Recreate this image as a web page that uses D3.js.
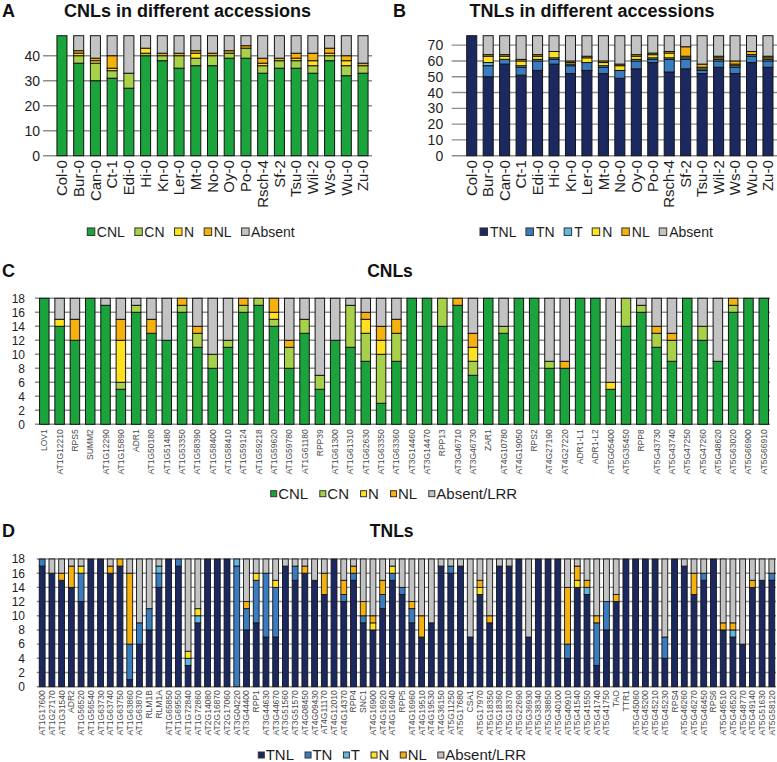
<!DOCTYPE html>
<html><head><meta charset="utf-8">
<script src="https://cdn.jsdelivr.net/npm/d3@7"></script>
<style>
body{margin:0;background:#fff}
svg{display:block}
text{font-family:"Liberation Sans",Arial,Helvetica,sans-serif}
</style>
</head><body>
<svg id="chart" width="777" height="762"></svg>
<script>
// ---------- Panel A / B data ----------
const accessions = ["Col-0","Bur-0","Can-0","Ct-1","Edi-0","Hi-0","Kn-0","Ler-0","Mt-0","No-0","Oy-0","Po-0","Rsch-4","Sf-2","Tsu-0","Wil-2","Ws-0","Wu-0","Zu-0"];
const cnlA    = [48,37,30,31,27,40,38,35,36,36,39,39,33,35,35,33,38,32,33];
const cnA     = [0,3,7,3,6,1,2,5,3,4,2,4,3,3,3,3,2,4,3];
const nA      = [0,1,1,1,0,2,0,0,2,0,0,0,1,0,1,2,1,2,0];
const nlA     = [0,1,1,5,0,0,1,1,1,1,1,1,2,1,2,3,2,2,1];
const absentA = [0,6,9,8,15,5,7,7,6,7,6,4,9,9,7,7,5,8,11];
const ticksA  = [0,10,20,30,40];

const tnlB    = [76,50,58,51,54,58,52,54,52,49,55,59,53,55,52,56,52,59,56];
const tnB     = [0,7,3,5,6,3,5,5,4,5,5,2,8,6,2,4,4,4,4];
const tB      = [0,2,0,1,1,1,1,0,1,0,1,1,1,1,1,1,1,1,1];
const nB      = [0,4,2,3,2,4,1,3,2,3,2,2,3,1,1,1,1,0,1];
const nlB     = [0,1,1,1,1,0,1,1,1,1,1,1,1,6,2,1,2,2,1];
const absentB = [0,12,12,15,12,10,16,13,16,18,12,11,10,7,18,13,16,10,13];
const ticksB  = [0,10,20,30,40,50,60,70];

// ---------- Panel C data ----------
const cnlGenes = ["LOV1","AT1G12210","RPS5","SUMM2","AT1G12290","AT1G15890","ADR1","AT1G50180","AT1G51480","AT1G53350","AT1G58390","AT1G58400","AT1G58410","AT1G59124","AT1G59218","AT1G59620","AT1G59780","AT1G61180","RPP39","AT1G61300","AT1G61310","AT1G62630","AT1G63350","AT1G63360","AT3G14460","AT3G14470","RPP13","AT3G46710","AT3G46730","ZAR1","AT4G10780","AT4G19050","RPS2","AT4G27190","AT4G27220","ADR1-L1","ADR1-L2","AT5G05400","AT5G35450","RPP8","AT5G43730","AT5G43740","AT5G47250","AT5G47260","AT5G48620","AT5G63020","AT5G66900","AT5G66910"];
const cnlC    = [18,14,12,18,17,5,16,13,12,16,11,8,11,16,17,14,8,13,5,12,11,9,3,9,18,18,14,17,7,18,13,18,18,8,8,18,18,5,14,16,11,9,18,12,9,16,18,18];
const cnC     = [0,0,0,0,0,1,1,0,0,1,2,2,1,1,1,1,3,2,2,0,6,4,7,4,0,0,4,0,2,0,1,0,0,1,0,0,0,0,4,1,2,3,0,2,0,1,0,0];
const nC      = [0,1,0,0,0,6,0,0,0,0,0,0,0,0,0,1,0,0,0,0,0,2,2,0,0,0,0,0,2,0,0,0,0,0,0,0,0,1,0,0,0,0,0,0,0,0,0,0];
const nlC     = [0,0,3,0,0,3,0,2,0,1,1,0,0,1,0,2,1,0,0,0,0,1,2,2,0,0,0,1,2,0,0,0,0,0,1,0,0,0,0,0,1,1,0,0,0,1,0,0];
const absentC = [0,3,3,0,1,3,1,3,6,0,4,8,6,0,0,0,6,3,11,6,1,2,4,3,0,0,0,0,5,0,4,0,0,9,9,0,0,12,0,1,4,5,0,4,9,0,0,0];
const ticksCD = [0,2,4,6,8,10,12,14,16,18];

// ---------- Panel D data ----------
const tnlGenes = ["AT1G17600","AT1G27170","AT1G31540","ADR2","AT1G56520","AT1G56540","AT1G63730","AT1G63740","AT1G63750","AT1G63860","AT1G63870","RLM1B","RLM1A","AT1G65850","AT1G69550","AT1G72840","AT1G72860","AT2G14080","AT2G16870","AT2G17060","AT3G04220","AT3G44400","RPP1","AT3G44630","AT3G44670","AT3G51560","AT3G51570","AT4G08450","AT4G09430","AT4G11170","AT4G12010","AT4G14370","RPP4","SNC1","AT4G16900","AT4G16920","AT4G16940","RPP5","AT4G16960","AT4G19510","AT4G19530","AT4G36150","AT5G11250","AT5G17680","CSA1","AT5G17970","AT5G18350","AT5G18360","AT5G18370","AT5G22690","AT5G36930","AT5G38340","AT5G38850","AT5G40100","AT5G40910","AT5G41540","AT5G41550","AT5G41740","AT5G41750","TAO","TTR1","AT5G45060","AT5G45200","AT5G45210","AT5G45230","RPS4","AT5G46260","AT5G46270","AT5G46450","RPS6","AT5G46510","AT5G46520","AT5G48770","AT5G49140","AT5G51630","AT5G58120"];
const tnlD    = [17,16,15,14,12,18,18,16,17,1, 6,8,14,18,17,3,9,18,18,18, 0,8,9,7,7,17,15,16,15,13, 18,12,15,9,8,11,15,13,9,7, 9,17,16,17,7,13,9,17,17,18, 7,18,18,18,4,14,13,3,8,12, 18,18,18,18,4,18,17,13,15,18, 8,7,6,14,15,15];
const tnD     = [1,0,0,0,4,0,0,0,0,5, 3,3,2,0,1,0,0,0,0,0, 17,3,6,9,7,0,2,0,0,0, 0,1,1,1,0,2,1,1,2,0, 0,0,1,0,0,0,0,0,0,0, 0,0,0,0,2,0,0,6,4,0, 0,0,0,0,3,0,0,0,1,0, 0,0,0,0,0,1];
const tD      = [0,0,0,0,0,0,0,0,0,0, 0,0,1,0,0,1,1,0,0,0, 1,0,0,0,0,0,0,0,0,0, 0,0,0,0,0,0,0,0,0,0, 0,0,0,0,0,0,0,0,0,0, 0,0,0,0,0,0,1,0,0,0, 0,0,0,0,0,0,0,0,0,0, 0,1,0,0,0,0];
const nD      = [0,0,0,0,1,0,0,0,0,0, 0,0,0,0,0,1,1,0,0,0, 0,0,1,0,1,0,0,0,0,0, 0,0,0,0,1,0,1,0,0,0, 0,0,0,0,0,1,0,0,0,0, 0,0,0,0,0,1,0,0,0,0, 0,0,0,0,0,0,0,0,0,0, 0,0,0,0,0,0];
const nlD     = [0,0,1,3,0,0,0,1,1,10, 0,0,0,0,0,0,0,0,0,0, 0,1,0,0,0,0,0,1,0,3, 0,2,1,2,1,2,0,0,1,3, 0,0,0,0,0,1,1,0,0,0, 0,0,0,0,8,2,1,1,0,1, 0,0,0,0,0,0,0,3,0,0, 1,1,0,1,0,0];
const absentD = [0,2,2,1,1,0,0,1,0,2, 9,7,1,0,0,13,7,0,0,0, 0,6,2,2,3,1,1,1,3,2, 0,3,1,6,8,3,1,4,6,8, 9,1,1,1,11,3,8,1,1,0, 11,0,0,0,4,1,3,8,6,5, 0,0,0,0,11,0,1,2,2,0, 9,9,12,3,3,2];

// ---------- colours ----------
const C_CNL = "#1ba33c", C_CN = "#a8d14a", C_N = "#ffe21f", C_NL = "#f6b10f", C_ABS = "#c3c3c3";
const C_TNL = "#1c2960", C_TN = "#3a7cc0", C_T = "#63b7e3";

const svg = d3.select("#chart");

function drawPanel(o) {
  const g = svg.append("g");
  const x = d3.scaleBand().domain(o.cats).range(o.xRange).paddingInner(o.pad).paddingOuter(o.pad / 2);
  const y = d3.scaleLinear().domain([0, o.yMax]).range(o.yRange);

  g.append("g").selectAll("line").data(o.ticks).join("line")
    .attr("x1", o.gridX[0]).attr("x2", o.gridX[1])
    .attr("y1", d => y(d)).attr("y2", d => y(d))
    .attr("stroke", "#8e8e8e").attr("stroke-width", 1.4);

  const ya = g.append("g").attr("transform", `translate(${o.gridX[0]},0)`)
    .call(d3.axisLeft(y).tickValues(o.ticks).tickSize(0).tickPadding(o.tickPad).tickFormat(d3.format("d")));
  ya.select(".domain").remove();
  ya.selectAll("text").attr("font-size", o.tickFont).attr("fill", "#1e1e1e")
    .attr("font-family", '"Liberation Sans",Arial,sans-serif');

  const keys = o.series.map(s => s.key);
  const rows = o.cats.map((c, i) => {
    const r = { cat: c };
    o.series.forEach(s => { r[s.key] = s.values[i]; });
    return r;
  });
  const stacked = d3.stack().keys(keys)(rows);
  g.append("g").selectAll("g").data(stacked).join("g")
    .attr("fill", (d, i) => o.series[i].color)
    .selectAll("rect").data(d => d.filter(p => p[1] > p[0])).join("rect")
    .attr("x", p => x(p.data.cat)).attr("width", x.bandwidth())
    .attr("y", p => y(p[1])).attr("height", p => y(p[0]) - y(p[1]))
    .attr("stroke", "#141414").attr("stroke-width", o.barStroke);

  const xa = g.append("g").attr("transform", `translate(0,${o.yRange[0]})`)
    .call(d3.axisBottom(x).tickSize(0).tickPadding(0));
  xa.select(".domain").remove();
  xa.selectAll("text")
    .attr("transform", "rotate(-90)").attr("text-anchor", "end")
    .attr("x", -o.labelOffset).attr("y", 0).attr("dy", "0.35em")
    .attr("font-size", o.labelFont).attr("fill", o.labelColor)
    .attr("font-family", '"Liberation Sans",Arial,sans-serif');
}

function drawLegend(o) {
  const g = svg.append("g");
  let cx = o.x;
  o.series.forEach(s => {
    g.append("rect").attr("x", cx).attr("y", o.y - o.sq / 2).attr("width", o.sq).attr("height", o.sq)
      .attr("fill", s.color).attr("stroke", "#333").attr("stroke-width", 1);
    const t = g.append("text").attr("x", cx + o.textOff).attr("y", o.y).attr("dy", "0.35em")
      .attr("font-size", o.font).attr("fill", "#1e1e1e").text(s.label);
    cx += o.textOff + t.node().getComputedTextLength() + o.gap;
  });
}

function title(txt, x, y, size, anchor) {
  svg.append("text").attr("x", x).attr("y", y).attr("font-size", size).attr("font-weight", "bold")
    .attr("text-anchor", anchor).attr("fill", "#111").text(txt);
}

// ---------- Panel A ----------
const seriesA = [
  { key: "CNL", label: "CNL", values: cnlA, color: C_CNL },
  { key: "CN", label: "CN", values: cnA, color: C_CN },
  { key: "N", label: "N", values: nA, color: C_N },
  { key: "NL", label: "NL", values: nlA, color: C_NL },
  { key: "Absent", label: "Absent", values: absentA, color: C_ABS }
];
drawPanel({ cats: accessions, series: seriesA, xRange: [53.6, 371.4], pad: 0.4, yMax: 48, yRange: [155.7, 35.7],
  ticks: ticksA, gridX: [43, 372], tickPad: 3, tickFont: 14, barStroke: 1, labelOffset: 4.5, labelFont: 15, labelColor: "#1e1e1e" });
drawLegend({ series: seriesA, x: 87.3, y: 231.7, sq: 7.5, textOff: 9.5, gap: 10, font: 14 });
title("A", 2, 16.5, 18, "start");
title("CNLs in different accessions", 187.5, 16.5, 18, "middle");

// ---------- Panel B ----------
const seriesB = [
  { key: "TNL", label: "TNL", values: tnlB, color: C_TNL },
  { key: "TN", label: "TN", values: tnB, color: C_TN },
  { key: "T", label: "T", values: tB, color: C_T },
  { key: "N", label: "N", values: nB, color: C_N },
  { key: "NL", label: "NL", values: nlB, color: C_NL },
  { key: "Absent", label: "Absent", values: absentB, color: C_ABS }
];
drawPanel({ cats: accessions, series: seriesB, xRange: [463.5, 776.2], pad: 0.39, yMax: 76, yRange: [155.7, 35.7],
  ticks: ticksB, gridX: [451.7, 777], tickPad: 8.5, tickFont: 14, barStroke: 1, labelOffset: 4.5, labelFont: 15, labelColor: "#1e1e1e" });
drawLegend({ series: seriesB, x: 480, y: 231.7, sq: 7.5, textOff: 10, gap: 9.5, font: 14 });
title("B", 393, 16.5, 18, "start");
title("TNLs in different accessions", 592, 16.5, 18, "middle");

// ---------- Panel C ----------
const seriesC = [
  { key: "CNL", label: "CNL", values: cnlC, color: C_CNL },
  { key: "CN", label: "CN", values: cnC, color: C_CN },
  { key: "N", label: "N", values: nC, color: C_N },
  { key: "NL", label: "NL", values: nlC, color: C_NL },
  { key: "Absent", label: "Absent/LRR", values: absentC, color: C_ABS }
];
drawPanel({ cats: cnlGenes, series: seriesC, xRange: [36.65, 771.45], pad: 0.38, yMax: 18, yRange: [424.3, 298.3],
  ticks: ticksCD, gridX: [35, 770], tickPad: 10, tickFont: 12, barStroke: 1, labelOffset: 5, labelFont: 8.5, labelColor: "#4a4a4a" });
drawLegend({ series: seriesC, x: 270.7, y: 493.7, sq: 6, textOff: 7.5, gap: 11.6, font: 15 });
title("C", 2, 277, 18, "start");
title("CNLs", 390, 277, 17.5, "middle");

// ---------- Panel D ----------
const seriesD = [
  { key: "TNL", label: "TNL", values: tnlD, color: C_TNL },
  { key: "TN", label: "TN", values: tnD, color: C_TN },
  { key: "T", label: "T", values: tD, color: C_T },
  { key: "N", label: "N", values: nD, color: C_N },
  { key: "NL", label: "NL", values: nlD, color: C_NL },
  { key: "Absent", label: "Absent/LRR", values: absentD, color: C_ABS }
];
drawPanel({ cats: tnlGenes, series: seriesD, xRange: [37.3, 776.7], pad: 0.4, yMax: 18, yRange: [686.7, 559],
  ticks: ticksCD, gridX: [36.7, 776], tickPad: 11.7, tickFont: 12, barStroke: 0.9, labelOffset: 3.5, labelFont: 8.5, labelColor: "#4a4a4a" });
drawLegend({ series: seriesD, x: 258.3, y: 755, sq: 6, textOff: 7.4, gap: 11, font: 15 });
title("D", 2, 537, 18, "start");
title("TNLs", 391.7, 537, 17.5, "middle");
</script>
</body></html>
